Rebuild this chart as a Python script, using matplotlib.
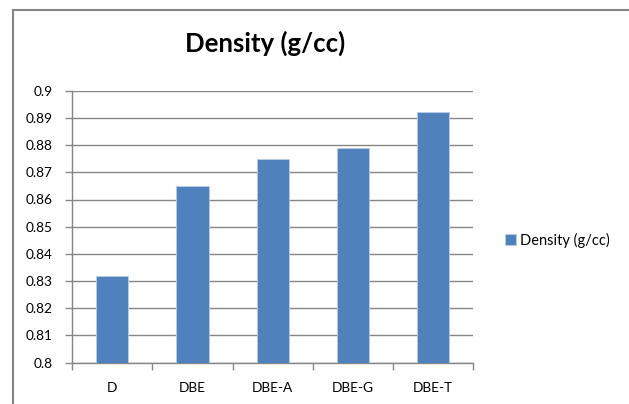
import matplotlib
matplotlib.use("Agg")
import matplotlib.pyplot as plt
from matplotlib.patches import Rectangle

categories = ["D", "DBE", "DBE-A", "DBE-G", "DBE-T"]
density = [0.832, 0.865, 0.875, 0.879, 0.892]
yticks = [0.8, 0.81, 0.82, 0.83, 0.84, 0.85, 0.86, 0.87, 0.88, 0.89, 0.9]
ytick_labels = ["0.8", "0.81", "0.82", "0.83", "0.84", "0.85", "0.86", "0.87", "0.88", "0.89", "0.9"]
series_name = "Density (g/cc)"

plt.rcParams['font.family'] = ['Lato', 'DejaVu Sans']

W, H = 629, 404
fig = plt.figure(figsize=(W / 100, H / 100), dpi=100)
fig.patch.set_facecolor("white")

# chart border
fig.patches.append(Rectangle((13 / W, -0.1), 1.2, 1 - 10 / H + 0.1, transform=fig.transFigure,
                             fill=False, edgecolor="#868686", linewidth=1.5))

ax = fig.add_axes([72.3 / W, 1 - 362.7 / H, (473 - 72.3) / W, (362.7 - 90.7) / H])
grey = "#868686"
x = range(len(categories))
bars = ax.bar(x, density, width=0.4, color="#4F81BD", edgecolor="#B9CDE5", linewidth=0.6,
              label=series_name, zorder=3)
ax.set_xlim(-0.5, len(categories) - 0.5)
ax.set_ylim(0.8, 0.9)
ax.set_yticks(yticks)
ax.set_yticklabels(ytick_labels)
ax.set_xticks([i - 0.5 for i in range(len(categories) + 1)], minor=False)
ax.set_xticklabels([""] * (len(categories) + 1))
ax.set_xticks(list(x), minor=True)
ax.set_xticklabels(categories, minor=True)
ax.tick_params(axis="x", which="minor", length=0, pad=14, labelsize=9.8, colors="black")
ax.tick_params(axis="x", which="major", length=5, color=grey, width=1)
ax.tick_params(axis="y", length=5, color=grey, width=1, pad=9, labelsize=9.8)
for y in yticks:
    ax.axhline(y, color=grey, linewidth=1, zorder=1)
for s in ["top", "right"]:
    ax.spines[s].set_visible(False)
for s in ["left", "bottom"]:
    ax.spines[s].set_color(grey)
    ax.spines[s].set_linewidth(1)

fig.text(265 / W, 1 - 43 / H, "Density (g/cc)", ha="center", va="center",
         fontsize=18.5, fontweight="bold")

leg = fig.legend(handles=[bars], labels=[series_name], loc="center left",
                 bbox_to_anchor=(492 / W, 1 - 240 / H), frameon=False, fontsize=10.5,
                 handlelength=0.75, handleheight=0.75, handletextpad=0.3)

fig.savefig("out.png", dpi=100, facecolor="white")
